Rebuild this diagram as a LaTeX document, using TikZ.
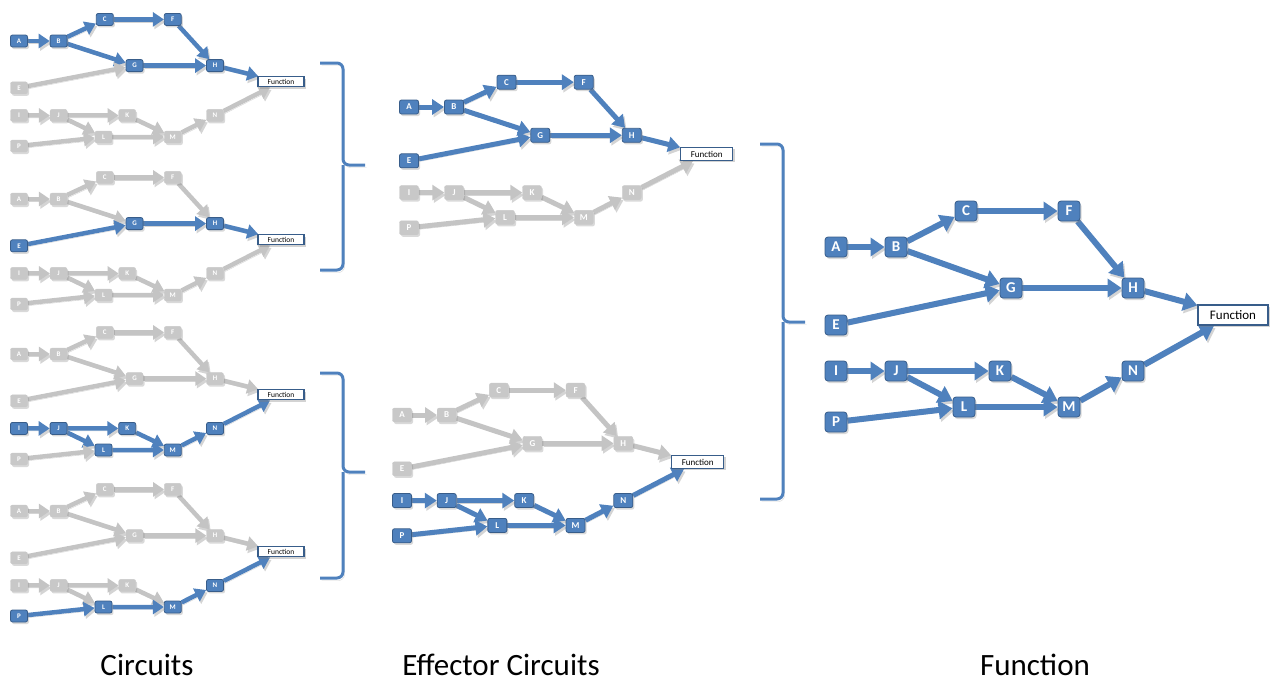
\documentclass[tikz,border=0pt]{standalone}
\usepackage{fontspec}
\setmainfont{Carlito}
\usetikzlibrary{arrows.meta,shadows,backgrounds}
\definecolor{nodeblue}{RGB}{79,129,189}
\definecolor{darkblue}{RGB}{56,93,138}
\definecolor{nodegray}{RGB}{200,200,200}
\definecolor{linkgray}{RGB}{196,196,196}
\tikzset{%
  box/.style={rectangle, rounded corners=2pt, inner sep=0pt, text=white,
    drop shadow={shadow xshift=1.5pt, shadow yshift=-2pt, opacity=0.3}},% letter box
  onbox/.style={box, fill=nodeblue, draw=darkblue, line width=0.8pt},% active letter
  offbox/.style={box, fill=nodegray, draw=nodegray},% inactive letter
  fnbox/.style={rectangle, fill=white, draw=darkblue, line width=1.2pt, inner sep=0pt,
    drop shadow={shadow xshift=2pt, shadow yshift=-2pt, opacity=0.35}},% function box
  link/.style={preaction={draw=black!17, transform canvas={xshift=1.5pt, yshift=-2.5pt}}},
  onlink/.style={link, draw=nodeblue},% active path
  offlink/.style={link, draw=linkgray},% inactive path
  brace/.style={link, draw=nodeblue, line width=3pt, rounded corners=6pt},
  caption/.style={font=\fontsize{31}{31}\selectfont},
  big/.style={box/.append style={minimum width=22pt, minimum height=20pt, rounded corners=3pt,
      font=\fontsize{15}{15}\selectfont\bfseries},
    fnbox/.append style={minimum width=70pt, minimum height=20pt, font=\fontsize{13}{13}\selectfont},
    link/.append style={line width=6pt, -{Triangle[length=14pt,width=18pt]}}},
  mid/.style={box/.append style={minimum width=19pt, minimum height=14pt,
      font=\fontsize{9}{9}\selectfont\bfseries},
    fnbox/.append style={minimum width=52pt, minimum height=13pt, font=\fontsize{9}{9}\selectfont},
    link/.append style={line width=5pt, -{Triangle[length=12pt,width=15pt]}}},
  small/.style={box/.append style={minimum width=17pt, minimum height=12pt,
      font=\fontsize{7}{7}\selectfont\bfseries},
    fnbox/.append style={minimum width=46pt, minimum height=10pt, font=\fontsize{7.5}{7.5}\selectfont},
    link/.append style={line width=4.5pt, -{Triangle[length=11pt,width=14pt]}}}
}
\makeatletter
% #1 name prefix, #2 placement and size, #3 active letters
\newcommand*{\circuit}[3]{%
  \begin{scope}[#2]
    \foreach \n/\x/\y in {A/0/0, B/60/0, C/130/-36, F/233/-36, G/175/41, H/297/41,
        E/0/78, I/0/124, J/60/124, K/164/124, L/128/160, M/233/160, N/297/124, P/0/175} {
      \edef\tmp{\noexpand\in@{,\n,}{,#3,}}\tmp
      \ifin@ \tikzset{cur/.style=onbox}\else \tikzset{cur/.style=offbox}\fi
      \node[cur] (#1\n) at (\x,\y) {\n};
    }
    \node[fnbox] (#1Fn) at (397,68) {Function};
    \begin{pgfonlayer}{background}
      \foreach \a/\b in {A/B, B/C, C/F, F/H, B/G, E/G, G/H, H/Fn,
          I/J, J/K, J/L, P/L, K/M, L/M, M/N, N/Fn} {
        \edef\tmp{\noexpand\in@{,\a,}{,#3,Fn,}}\tmp
        \ifin@ \edef\tmp{\noexpand\in@{,\b,}{,#3,Fn,}}\tmp \fi
        \ifin@ \tikzset{cur/.style=onlink}\else \tikzset{cur/.style=offlink}\fi
        \draw[cur] (#1\a) -- (#1\b);
      }
    \end{pgfonlayer}
  \end{scope}}
\makeatother

\begin{document}
\begin{tikzpicture}[x=1pt, y=-1pt]
\useasboundingbox (0,0) rectangle (1276,683);

% circuits
\circuit{la}{shift={(19,41)}, xscale=0.66, yscale=0.6, small}{A,B,C,F,G,H}
\circuit{lb}{shift={(19,199)}, xscale=0.66, yscale=0.6, small}{E,G,H}
\circuit{lc}{shift={(19,354)}, xscale=0.66, yscale=0.6, small}{I,J,K,L,M,N}
\circuit{ld}{shift={(19,511)}, xscale=0.66, yscale=0.6, small}{P,L,M,N}

% effector circuits
\circuit{ma}{shift={(409,107)}, xscale=0.75, yscale=0.69, mid}{A,B,C,F,G,H,E}
\circuit{mb}{shift={(402,415)}, xscale=0.745, yscale=0.69, mid}{I,J,K,L,M,N,P}

% function
\circuit{r}{shift={(836,247)}, big}{A,B,C,F,G,H,E,I,J,K,L,M,N,P}

% braces
\draw[brace] (320,63) -| (343,165) -- (365,165);
\draw[brace] (343,165) |- (320,270);
\draw[brace] (320,373) -| (343,472) -- (365,472);
\draw[brace] (343,472) |- (320,578);
\draw[brace] (760,144) -| (783,322) -- (805,322);
\draw[brace] (783,322) |- (760,499);

\node[caption] (lcirc) at (147,665) {Circuits};
\node[caption] (leff) at (501,665) {Effector Circuits};
\node[caption] (lfun) at (1035,665) {Function};
\end{tikzpicture}
\end{document}
